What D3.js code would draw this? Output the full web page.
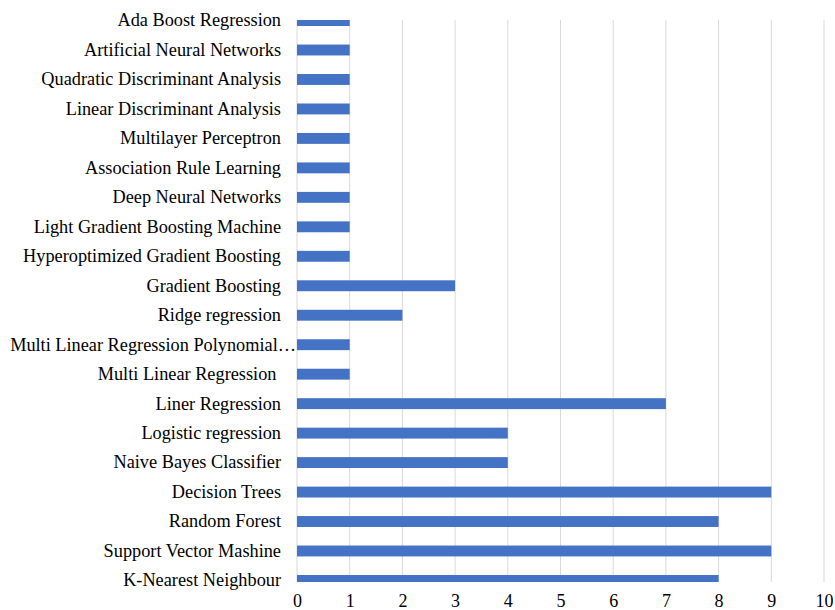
<!DOCTYPE html>
<html>
<head>
<meta charset="utf-8">
<script src="https://cdn.jsdelivr.net/npm/d3@7"></script>
<style>
  body { margin: 0; background: #fff; }
  text { font-family: "Liberation Serif", "Times New Roman", serif; fill: #000; white-space: pre; }
</style>
</head>
<body>
<div id="chart"></div>
<script>
var width = 835, height = 610;

// categories top to bottom, as they appear in the chart
var categories = [
  "Ada Boost Regression",
  "Artificial Neural Networks",
  "Quadratic Discriminant Analysis",
  "Linear Discriminant Analysis",
  "Multilayer Perceptron",
  "Association Rule Learning",
  "Deep Neural Networks",
  "Light Gradient Boosting Machine",
  "Hyperoptimized Gradient Boosting",
  "Gradient Boosting",
  "Ridge regression",
  "Multi Linear Regression Polynomial\u2026",
  "Multi Linear Regression ",
  "Liner Regression",
  "Logistic regression",
  "Naive Bayes Classifier",
  "Decision Trees",
  "Random Forest",
  "Support Vector Mashine",
  "K-Nearest Neighbour"
];
var counts = [1, 1, 1, 1, 1, 1, 1, 1, 1, 3, 2, 1, 1, 7, 4, 4, 9, 8, 9, 8];
var ticks = [0, 1, 2, 3, 4, 5, 6, 7, 8, 9, 10];

var plotTop = 20, plotBottom = 582;
var fontFam = '"Liberation Serif", "Times New Roman", serif';

var svg = d3.select('#chart')
  .append('svg')
  .attr('width', width)
  .attr('height', height);

var x = d3.scaleLinear()
  .domain([0, 10])
  .range([297, 824]);

var y = d3.scaleBand()
  .domain(categories)
  .range([5.8, 595.2])
  .paddingInner(0.63)
  .paddingOuter(0.315);

// plot area is cut at top and bottom
svg.append('clipPath')
  .attr('id', 'plotClip')
  .append('rect')
  .attr('x', 0)
  .attr('y', plotTop)
  .attr('width', width)
  .attr('height', plotBottom - plotTop);

// vertical gridlines
svg.append('g')
  .selectAll('line')
  .data(ticks)
  .enter()
  .append('line')
  .attr('x1', function(d){ return x(d); })
  .attr('x2', function(d){ return x(d); })
  .attr('y1', plotTop)
  .attr('y2', plotBottom)
  .attr('stroke', '#d9d9d9')
  .attr('stroke-width', 1);

svg.append('g')
  .attr('clip-path', 'url(#plotClip)')
  .selectAll('rect')
  .data(categories)
  .enter()
  .append('rect')
  .attr('x', x(0))
  .attr('y', function(d){ return y(d); })
  .attr('width', function(d, i){ return x(counts[i]) - x(0); })
  .attr('height', y.bandwidth())
  .attr('fill', '#4472c4');

// category labels
var yAxis = d3.axisLeft(y).tickSize(0).tickPadding(0);
var yAxisG = svg.append('g')
  .attr('transform', 'translate(281,0)')
  .call(yAxis)
  .attr('font-family', fontFam)
  .attr('font-size', 18.3);
yAxisG.select('.domain').remove();
yAxisG.selectAll('text')
  .attr('fill', '#000')
  .attr('dx', function(d){
    // truncated label runs past the usual right edge, up to the bar
    return d.slice(-1) === '\u2026' ? 15 : 0;
  });

// value axis
var xAxis = d3.axisBottom(x).tickValues(ticks).tickSize(0).tickPadding(0);
var xAxisG = svg.append('g')
  .attr('transform', 'translate(0,594)')
  .call(xAxis)
  .attr('font-family', fontFam)
  .attr('font-size', 18);
xAxisG.select('.domain').remove();
xAxisG.selectAll('text')
  .attr('fill', '#000');
</script>
</body>
</html>
